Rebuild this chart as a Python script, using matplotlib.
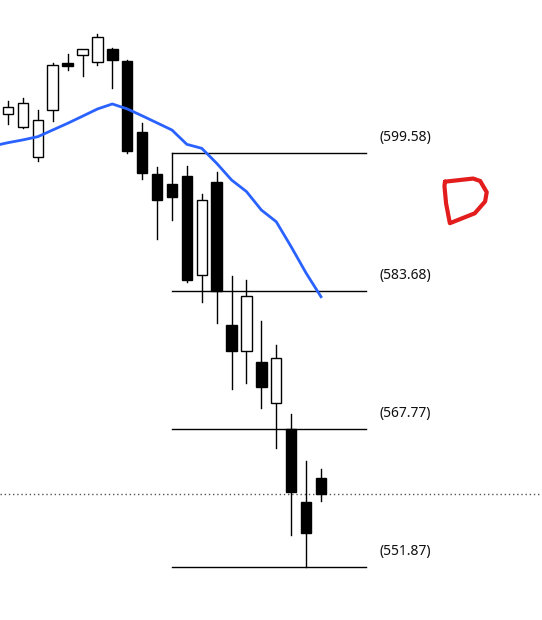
import matplotlib
matplotlib.use('Agg')
import matplotlib.pyplot as plt
from matplotlib.patches import Rectangle

# Candles (oldest -> newest)
opens  = [604.04, 602.54, 599.15, 604.50, 609.98, 610.84, 610.03, 611.56, 610.18, 602.00, 597.19,
          596.04, 596.93, 585.56, 596.24, 579.76, 576.73, 575.50, 570.81, 567.75, 559.37, 562.14]
highs  = [605.57, 605.88, 604.53, 609.98, 610.99, 611.56, 613.29, 611.68, 610.29, 603.00, 598.00,
          599.58, 598.08, 594.82, 597.36, 585.41, 584.95, 580.22, 577.46, 569.51, 564.10, 563.17]
lows   = [602.89, 602.50, 598.66, 603.30, 609.18, 608.49, 609.68, 607.10, 599.55, 596.55, 589.64,
          591.86, 584.75, 582.45, 579.96, 572.35, 573.11, 570.16, 565.63, 555.57, 551.87, 559.52]
closes = [604.85, 605.31, 603.38, 609.72, 609.64, 611.56, 612.95, 610.33, 599.85, 597.24, 594.17,
          594.55, 584.95, 594.17, 583.68, 576.80, 583.10, 572.65, 575.96, 560.56, 555.83, 560.29]

# moving average; first value belongs to the candle just left of the view
ma = [600.39, 600.77, 601.09, 601.46, 602.23, 603.00, 603.82, 604.65, 605.23, 604.66, 603.87,
      603.05, 602.23, 600.58, 600.12, 598.40, 596.47, 595.14, 593.01, 591.66, 588.78, 585.75, 583.02]

# fibonacci levels, drawn from candle 12 high to candle 21 low
fib_levels = [599.58, 583.68, 567.77, 551.87]
fib_start = 12
fib_end = 25

last_close = closes[-1]

fig = plt.figure(figsize=(5.42, 6.2), dpi=100)
ax = fig.add_axes([0, 0, 1, 1])
ax.set_axis_off()

body_w = 0.7
for i in range(len(opens)):
    x = i + 1
    o, h, l, c = opens[i], highs[i], lows[i], closes[i]
    lo, hi = min(o, c), max(o, c)
    ax.plot([x, x], [l, lo], color='black', lw=1, zorder=2)
    ax.plot([x, x], [hi, h], color='black', lw=1, zorder=2)
    face = 'white' if c > o else 'black'
    ax.add_patch(Rectangle((x - body_w / 2, lo), body_w, hi - lo,
                           facecolor=face, edgecolor='black', lw=1, zorder=3))

# moving average line
ax.plot(range(0, len(ma)), ma, color='#2962ff', lw=2, zorder=4)

# fib retracement
for lvl in fib_levels:
    ax.plot([fib_start, fib_end], [lvl, lvl], color='black', lw=1, zorder=1)
    ax.annotate('(%.2f)' % lvl, xy=(fib_end + 0.95, lvl), xytext=(0, 11),
                textcoords='offset points', ha='left', va='center',
                fontsize=10, family='Noto Sans', color='#111111')

# last price line
ax.axhline(last_close, color='#555555', lw=1, ls=(0, (1, 2)), zorder=1)

# hand-drawn red mark, in axes fraction
d_x = [0.821, 0.873, 0.886, 0.898, 0.895, 0.876, 0.830, 0.823, 0.820, 0.821]
d_y = [0.707, 0.712, 0.708, 0.690, 0.675, 0.656, 0.640, 0.672, 0.700, 0.707]
ax.plot(d_x, d_y, color='#e31c1c', lw=3, transform=ax.transAxes,
        solid_capstyle='round', solid_joinstyle='round', zorder=5)

ax.set_xlim(0.4633, 36.83)
ax.set_ylim(545.77, 617.21)

fig.savefig('out.png', dpi=100, facecolor='white')
